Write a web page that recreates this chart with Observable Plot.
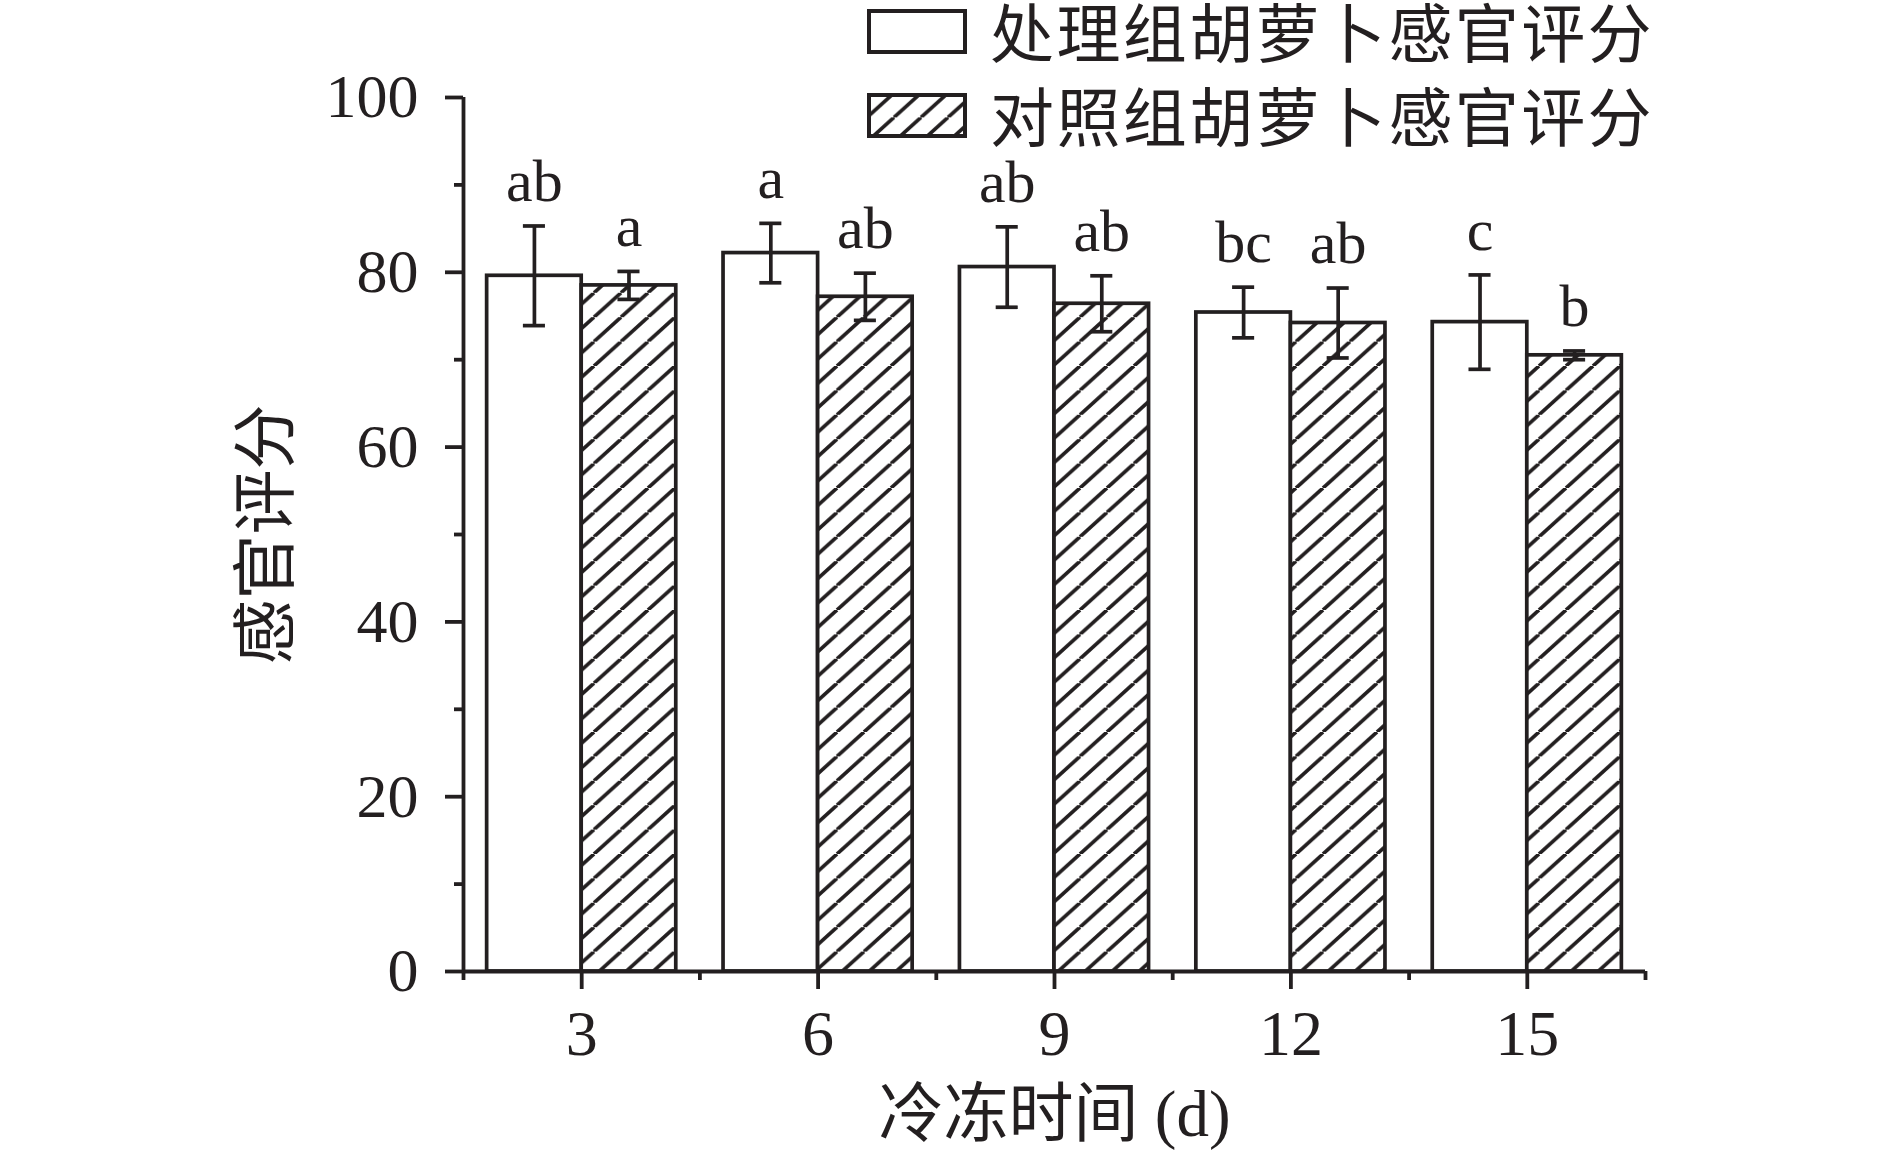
<!DOCTYPE html>
<html><head><meta charset="utf-8">
<script src="https://cdn.jsdelivr.net/npm/d3@7"></script>
<script src="https://cdn.jsdelivr.net/npm/@observablehq/plot@0.6"></script>
<style>
html,body{margin:0;padding:0;background:#fff;}
#wrap{position:relative;width:1890px;height:1155px;overflow:hidden;background:#fff;}
#legend{position:absolute;left:867px;top:9px;font-family:"Liberation Serif","Noto Sans CJK SC",serif;font-size:64px;color:#231f20;}
.row{display:flex;align-items:center;height:45px;}
.row + .row{margin-top:39px;}
.row span{margin-left:23px;line-height:1;white-space:nowrap;letter-spacing:2.4px;position:relative;top:4px;}
</style></head><body>
<div id="wrap"><div id="chart"></div><div id="legend"></div></div>
<script>
// ---- data ----
const days = [3, 6, 9, 12, 15];
const seriesNames = ["处理组胡萝卜感官评分", "对照组胡萝卜感官评分"];
const treatmentMean = [79.6, 82.2, 80.6, 75.4, 74.3];
const treatmentErr  = [5.7, 3.4, 4.6, 2.9, 5.4];
const treatmentLetters = ["ab", "a", "ab", "bc", "c"];
const controlMean = [78.5, 77.2, 76.4, 74.2, 70.5];
const controlErr  = [1.6, 2.7, 3.2, 4.0, 0.5];
const controlLetters = ["a", "ab", "ab", "ab", "b"];
const yMajorTicks = [0, 20, 40, 60, 80, 100];
const yMinorTicks = [10, 30, 50, 70, 90];
const xTitle = "冷冻时间 (d)";
const yTitle = "感官评分";

// ---- styling ----
const INK = "#231f20";
const SERIF = "'Liberation Serif','Times New Roman','Noto Sans CJK SC',serif";
const BAR_W = 1.2;      // bar width in day units
const CAP = 0.14;       // half cap width in day units
const SW = 3.7;

const rows = days.flatMap((d, i) => [
  {day: d, s: 0, mean: treatmentMean[i], err: treatmentErr[i], label: treatmentLetters[i]},
  {day: d, s: 1, mean: controlMean[i], err: controlErr[i], label: controlLetters[i]}
]);
const cx = r => r.s === 0 ? r.day - BAR_W / 2 : r.day + BAR_W / 2;
const xDomain = [days[0] - 1.5, days[days.length - 1] + 1.5];
const xMinorTicks = days.map(d => d - 1.5).concat([days[days.length - 1] + 1.5]);

function hatchDefs(id) {
  const W = 27, H = 24.4, sw = 3.7;
  const ln = (x1, y1, x2, y2) => `<line x1="${x1}" y1="${y1}" x2="${x2}" y2="${y2}" stroke="${INK}" stroke-width="${sw}"/>`;
  return `<pattern id="${id}" patternUnits="userSpaceOnUse" width="${W}" height="${H}">
    <rect width="${W}" height="${H}" fill="#fff"/>
    ${ln(-W, H, 0, 0)}${ln(0, H, W, 0)}${ln(W, H, 2 * W, 0)}</pattern>`;
}

const chart = Plot.plot({
  width: 1890,
  height: 1155,
  marginLeft: 463,
  marginRight: 245,
  marginTop: 97,
  marginBottom: 184,
  style: {fontFamily: SERIF, background: "white", color: INK, overflow: "visible"},
  x: {type: "linear", domain: xDomain},
  y: {domain: [0, 100]},
  marks: [
    Plot.rect(rows.filter(r => r.s === 0), {x1: r => r.day - BAR_W, x2: r => r.day, y1: 0, y2: "mean", fill: "white", stroke: INK, strokeWidth: SW}),
    Plot.rect(rows.filter(r => r.s === 1), {x1: r => r.day, x2: r => r.day + BAR_W, y1: 0, y2: "mean", fill: "url(#hatch)", stroke: INK, strokeWidth: SW}),
    Plot.ruleX(rows, {x: cx, y1: r => r.mean - r.err, y2: r => r.mean + r.err, stroke: INK, strokeWidth: SW}),
    Plot.ruleY(rows, {y: r => r.mean + r.err, x1: r => cx(r) - CAP, x2: r => cx(r) + CAP, stroke: INK, strokeWidth: SW}),
    Plot.ruleY(rows, {y: r => r.mean - r.err, x1: r => cx(r) - CAP, x2: r => cx(r) + CAP, stroke: INK, strokeWidth: SW}),
    Plot.text(rows, {x: cx, y: r => r.mean + r.err, text: "label", lineAnchor: "bottom", dy: -25, fontSize: 60, fill: INK, fontFamily: SERIF}),
    Plot.axisY({ticks: yMajorTicks, tickSize: 18, tickPadding: 27, fontSize: 62, label: null, stroke: INK, fill: INK, strokeWidth: 3.8}),
    Plot.axisY({ticks: yMinorTicks, tickSize: 9, tickFormat: () => "", label: null, stroke: INK, strokeWidth: 3.8}),
    Plot.axisX({ticks: days, tickSize: 18, tickPadding: 20, fontSize: 64, label: null, stroke: INK, fill: INK, strokeWidth: 3.8}),
    Plot.axisX({ticks: xMinorTicks, tickSize: 9, tickFormat: () => "", label: null, stroke: INK, strokeWidth: 3.8}),
    Plot.ruleY([0], {stroke: INK, strokeWidth: 4.2}),
    Plot.ruleX([xDomain[0]], {stroke: INK, strokeWidth: 3.8}),
    Plot.text([yTitle], {text: d => d, frameAnchor: "left", textAnchor: "middle", lineAnchor: "middle", rotate: -90, dx: -196, fontSize: 65, fill: INK, fontFamily: SERIF}),
    Plot.text([xTitle], {text: d => d, frameAnchor: "bottom", textAnchor: "middle", lineAnchor: "middle", dy: 144, fontSize: 65, fill: INK, fontFamily: SERIF})
  ]
});
const svgEl = chart.tagName.toLowerCase() === "svg" ? chart : chart.querySelector("svg");
d3.select(svgEl).insert("defs", ":first-child").html(hatchDefs("hatch"));
document.getElementById("chart").appendChild(chart);

// ---- legend ----
const legend = d3.select("#legend");
seriesNames.forEach((name, i) => {
  const row = legend.append("div").attr("class", "row");
  const sw = row.append("svg").attr("width", 100).attr("height", 45);
  if (i === 1) sw.append("defs").html(hatchDefs("hatchLegend"));
  sw.append("rect").attr("x", 2).attr("y", 2).attr("width", 96).attr("height", 41)
    .attr("fill", i === 0 ? "white" : "url(#hatchLegend)").attr("stroke", INK).attr("stroke-width", 4);
  row.append("span").text(name);
});
</script>
</body></html>
